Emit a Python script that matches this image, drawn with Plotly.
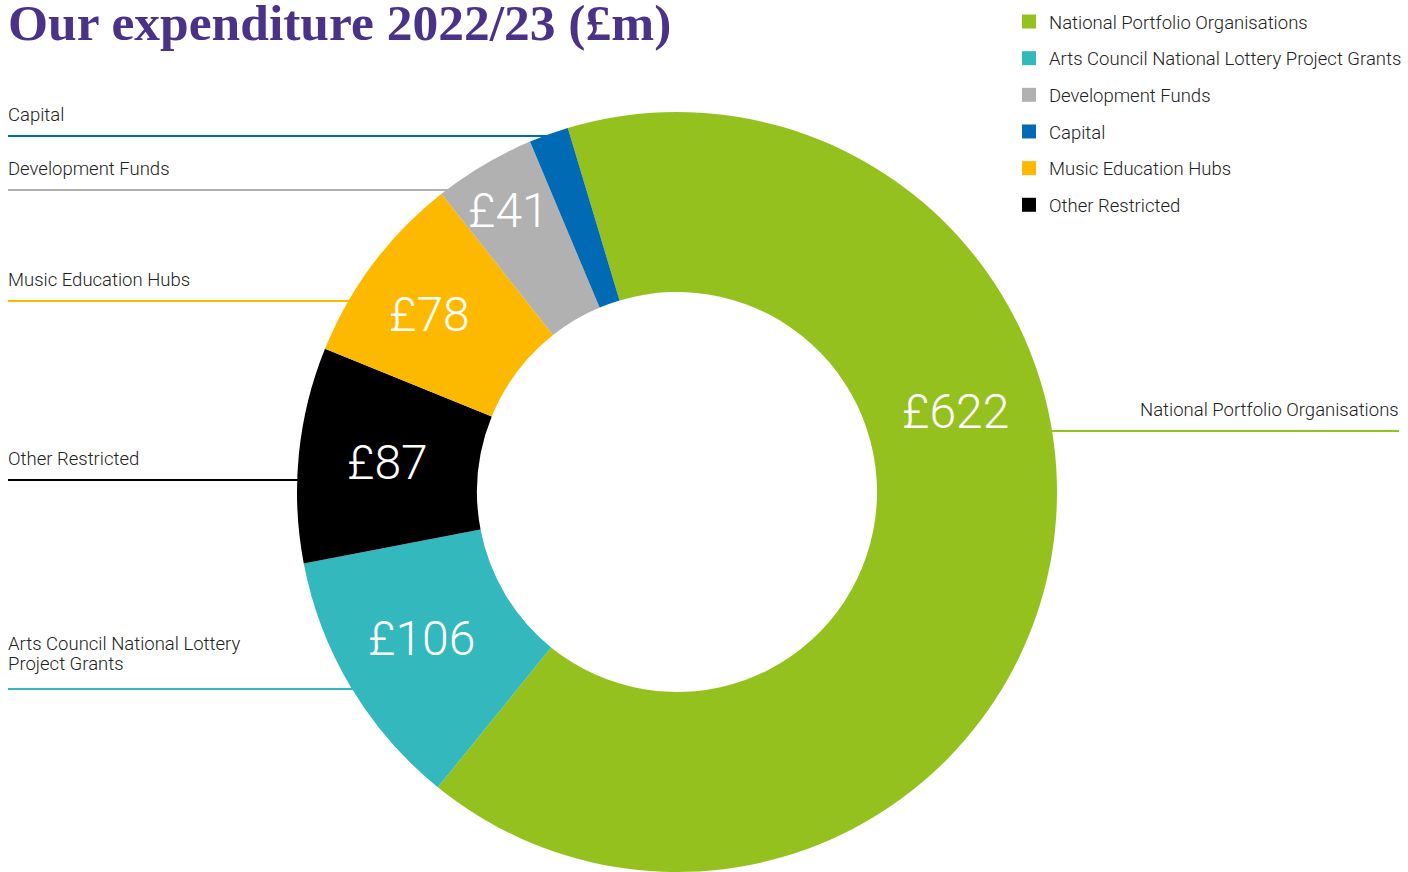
import plotly.graph_objects as go

W, H = 1408, 872

# data (slice order, clockwise from NPO)
labels = ["National Portfolio Organisations", "Arts Council National Lottery Project Grants",
          "Other Restricted", "Music Education Hubs", "Development Funds", "Capital"]
values = [622, 106, 87, 78, 41, 16]
colors = ["#95C11F", "#33B8BD", "#000000", "#FDB900", "#B1B1B1", "#006AB4"]

# legend order
legend_order = ["National Portfolio Organisations", "Arts Council National Lottery Project Grants",
                "Development Funds", "Capital", "Music Education Hubs", "Other Restricted"]

# value labels shown inside slices (pixel positions of the text centres)
value_text = {"National Portfolio Organisations": (955, 411),
              "Arts Council National Lottery Project Grants": (421, 638),
              "Other Restricted": (387, 463),
              "Music Education Hubs": (429, 314),
              "Development Funds": (508, 210)}

# outside labels: name, text lines with their y, line y, side
outer_labels = [
    ("Capital", [("Capital", 115)], 136, "left"),
    ("Development Funds", [("Development Funds", 169)], 190, "left"),
    ("Music Education Hubs", [("Music Education Hubs", 280)], 301, "left"),
    ("Other Restricted", [("Other Restricted", 459)], 480, "left"),
    ("Arts Council National Lottery Project Grants",
     [("Arts Council National Lottery", 644), ("Project Grants", 664)], 689, "left"),
    ("National Portfolio Organisations", [("National Portfolio Organisations", 410)], 431, "right"),
]

color_of = dict(zip(labels, colors))
label_font = dict(family="Roboto", size=18.5, color="#222222", weight=300)

def px(x):
    return x / W

def py(y):
    return 1 - y / H

# pie geometry in pixels
cx, cy, R = 677, 492, 380

fig = go.Figure()
fig.add_trace(go.Pie(
    labels=labels, values=values, sort=False, direction="clockwise", rotation=-16.7,
    hole=200 / R, marker=dict(colors=colors, line=dict(width=0)),
    textinfo="none", hoverinfo="label+value", showlegend=False,
    domain=dict(x=[px(cx - R), px(cx + R)], y=[max(py(cy + R), 0), py(cy - R)]),
))

for name in legend_order:
    fig.add_trace(go.Scatter(
        x=[None], y=[None], mode="markers", name=name, legendgroup=name,
        marker=dict(symbol="square", size=14, color=color_of[name]),
    ))

annotations = [dict(
    text="<b>Our expenditure 2022/23 (£m)</b>", x=px(6), y=py(22), xref="paper", yref="paper",
    xanchor="left", yanchor="middle", showarrow=False,
    font=dict(family="Liberation Serif", size=51.5, color="#4B3289"),
)]

for name, (tx, ty) in value_text.items():
    v = values[labels.index(name)]
    annotations.append(dict(
        text=f"£{v}", x=px(tx), y=py(ty), xref="paper", yref="paper",
        xanchor="center", yanchor="middle", showarrow=False,
        font=dict(family="Roboto", size=48, color="white", weight=300),
    ))

shapes = []
for name, lines, ly, side in outer_labels:
    dy = ly - cy
    reach = (R * R - dy * dy) ** 0.5
    for txt, ty in lines:
        if side == "left":
            annotations.append(dict(
                text=txt, x=px(6), y=py(ty), xref="paper", yref="paper",
                xanchor="left", yanchor="middle", showarrow=False, font=label_font,
            ))
        else:
            annotations.append(dict(
                text=txt, x=px(1401), y=py(ty), xref="paper", yref="paper",
                xanchor="right", yanchor="middle", showarrow=False, font=label_font,
            ))
    if side == "left":
        x0, x1 = 8, cx - reach + 6
    else:
        x0, x1 = cx + reach - 6, 1399
    shapes.append(dict(
        type="line", xref="paper", yref="paper", layer="below",
        x0=px(x0), x1=px(x1), y0=py(ly), y1=py(ly),
        line=dict(color=color_of[name], width=2),
    ))

fig.update_layout(
    width=W, height=H, margin=dict(l=0, r=0, t=0, b=0),
    paper_bgcolor="white", plot_bgcolor="white",
    xaxis=dict(visible=False), yaxis=dict(visible=False),
    annotations=annotations, shapes=shapes,
    legend=dict(x=px(1009), y=py(3), xanchor="left", yanchor="top",
                font=label_font, tracegroupgap=9.6, bgcolor="rgba(0,0,0,0)"),
)

# drop the browser's default 8px body margin so the figure fills the window
fig.write_html(
    "out.html",
    config={"displayModeBar": False},
    post_script="document.body.style.margin='0';document.body.style.overflow='hidden';",
)
